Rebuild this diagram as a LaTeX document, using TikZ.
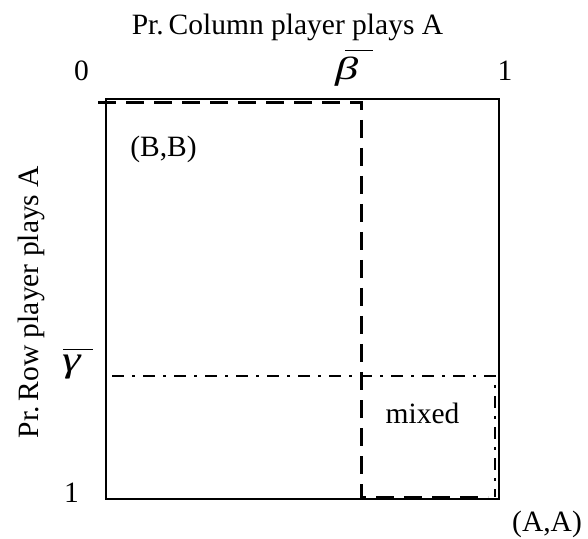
\documentclass[tikz,border=0pt]{standalone}
\usepackage{fontspec}
\usepackage{graphicx}
\setmainfont{Liberation Serif}
\begin{document}
\begin{tikzpicture}[x=1pt,y=1pt,
  lbl/.style={font=\fontsize{29.5}{34}\selectfont, inner sep=0pt, anchor=base},
  glbl/.style={font=\fontsize{36}{42}\selectfont, inner sep=0pt, anchor=base west},
  frame/.style={line width=1.3pt},
  bdash/.style={line width=3pt, dash pattern=on 18pt off 10pt},
  bdashdot/.style={line width=2.5pt, dash pattern=on 12pt off 8pt on 3pt off 8pt}]
\useasboundingbox (0,0) rectangle (588,538);
% frame corners
\coordinate (SW) at (106,39);
\coordinate (NE) at (499,439);
\draw[frame] (SW) rectangle (NE);
% dashed region
\coordinate (d1) at (98,435);
\coordinate (d2) at (361,435);
\coordinate (d3) at (361,41);
\coordinate (d4) at (488,41);
\draw[bdash] (d1) -- (d2) -- (d3) -- (d4);
% dash-dot region
\coordinate (e1) at (106,435);
\coordinate (e2) at (106,162);
\coordinate (e3) at (495,162);
\coordinate (e4) at (495,41);
\draw[bdashdot] (e1) -- (e2) -- (e3) -- (e4);
% labels
\node[lbl] (title) at (287.5,503) {Pr.\,Column player plays A};
\node[lbl] (zero) at (81.5,457) {0};
\node[glbl, font=\fontsize{32}{38}\selectfont] (beta) at (335,458) {\rlap{\kern10pt\rule[29pt]{28pt}{1.3pt}}\scalebox{1.45}[1]{\textit{β}}};
\node[lbl] (onet) at (505,457) {1};
\node[lbl, rotate=90] (rowlbl) at (38,236) {Pr.\,Row player plays A};
\node[glbl] (gamma) at (62,166) {\rlap{\kern1pt\rule[22pt]{30pt}{1.3pt}}\scalebox{1.3}[1]{\textit{γ}}};
\node[lbl] (oneb) at (71.5,36) {1};
\node[lbl] (BB) at (163.5,381) {(B,B)};
\node[lbl] (mixed) at (422.5,115) {mixed};
\node[lbl, anchor=base west] (AA) at (512,7) {(A,A)};
\end{tikzpicture}
\end{document}
